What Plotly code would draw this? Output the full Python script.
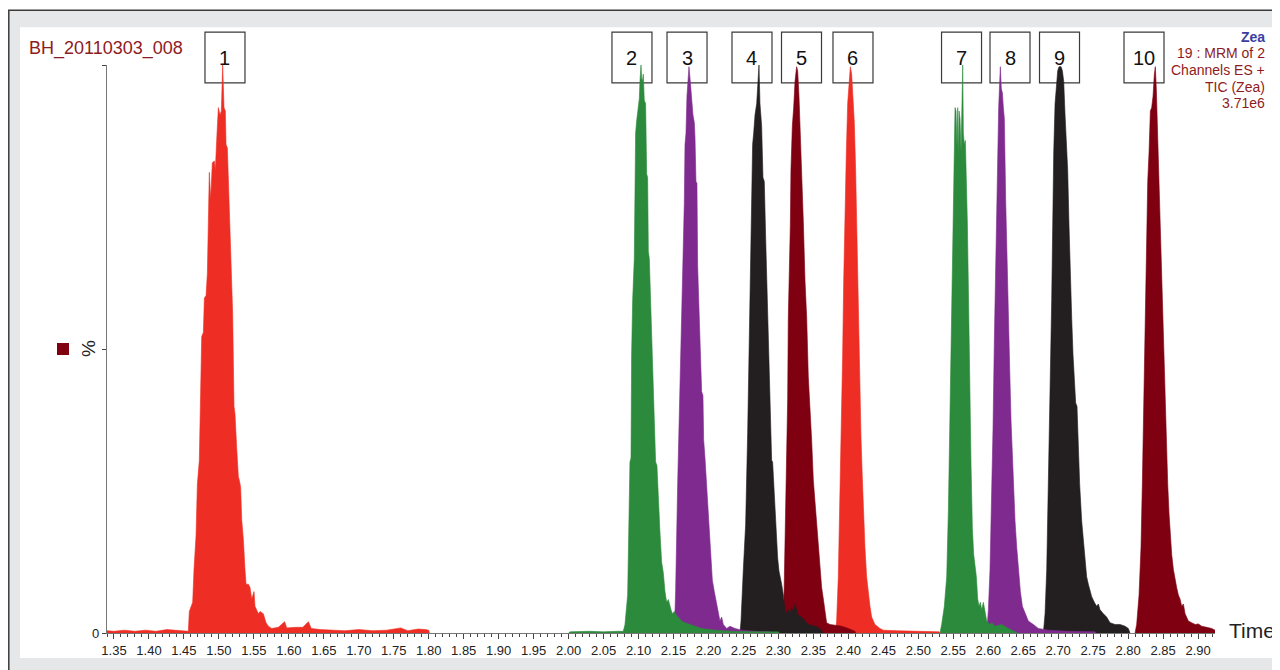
import plotly.graph_objects as go

# ---------------- data (time in min, intensity in %) ----------------
p1_t = [1.340, 1.350, 1.365, 1.380, 1.395, 1.410, 1.4258, 1.440, 1.4563, 1.4577, 1.4625, 1.4644, 1.4673,
        1.4692, 1.4720, 1.4754, 1.4778, 1.4792, 1.4816, 1.4835, 1.4863, 1.4882, 1.4906, 1.4935, 1.4949,
        1.4968, 1.4992, 1.5016, 1.5035, 1.5054, 1.5073, 1.5092, 1.5102, 1.5121, 1.5135, 1.5159, 1.5183,
        1.5197, 1.5216, 1.5230, 1.5254, 1.5278, 1.5292, 1.5311, 1.5326, 1.5350, 1.5373, 1.5388, 1.5421,
        1.5445, 1.5469, 1.5502, 1.5516, 1.5540, 1.5564, 1.5588, 1.5635, 1.5674, 1.5707, 1.5755, 1.585,
        1.594, 1.597, 1.610, 1.620, 1.628, 1.632, 1.645, 1.660, 1.680, 1.700, 1.720, 1.740, 1.760, 1.770,
        1.785, 1.795, 1.800, 1.801]
p1_v = [0.4, 0.3, 0.5, 0.3, 0.5, 0.3, 0.6, 0.4, 0.3, 3.8, 5.4, 11.2, 17.1,
        26.2, 30.4, 52.2, 52.9, 59.0, 59.4, 63.3, 81.1, 76.3, 82.8, 83.1, 81.5,
        86.7, 92.5, 91.2, 91.9, 100.0, 92.5, 91.9, 86.0, 85.4, 79.5, 68.5, 62.0,
        56.1, 39.9, 38.6, 32.7, 27.5, 26.9, 25.6, 20.0, 16.4, 11.2, 8.6, 8.6,
        8.0, 6.0, 7.3, 4.7, 4.1, 3.4, 3.8, 3.4, 1.8, 1.2, 0.8, 1.0,
        2.0, 0.9, 1.0, 1.0, 2.0, 0.8, 0.6, 0.5, 0.4, 0.6, 0.4, 0.5, 0.9, 0.4,
        0.7, 0.6, 0.5, 0.0]

p2_t = [2.000, 2.002, 2.030, 2.050, 2.070, 2.0782, 2.0806, 2.0844, 2.0877, 2.0892, 2.0901, 2.0916,
        2.0939, 2.0958, 2.0973, 2.0997, 2.1011, 2.1020, 2.1035, 2.1044, 2.1054, 2.1068, 2.1082, 2.1101,
        2.1116, 2.1130, 2.1140, 2.1154, 2.1178, 2.1197, 2.1211, 2.1225, 2.1244, 2.1263, 2.1283, 2.1306,
        2.1330, 2.1354, 2.1378, 2.1402, 2.1426, 2.1440, 2.1464, 2.1483, 2.1511, 2.1545, 2.1568, 2.1616,
        2.1664, 2.1735, 2.1807, 2.1902, 2.2093, 2.2331, 2.2700, 2.3000, 2.3010]
p2_v = [0.0, 0.2, 0.3, 0.2, 0.3, 0.3, 1.5, 6.7, 30.1, 30.8, 49.0, 58.7,
        65.9, 88.0, 90.2, 92.5, 94.1, 97.1, 100.0, 97.7, 97.1, 98.4, 93.8, 93.2,
        80.8, 80.2, 67.2, 65.9, 55.5, 47.7, 45.7, 36.6, 30.1, 29.5, 23.0, 17.8,
        12.5, 10.6, 7.3, 5.4, 5.9, 5.1, 4.1, 3.4, 3.8, 3.1, 2.8, 2.1,
        1.8, 1.5, 1.2, 0.8, 0.5, 0.3, 0.2, 0.2, 0.0]

p3_t = [2.1511, 2.1530, 2.1559, 2.1578, 2.1597, 2.1607, 2.1626, 2.1640, 2.1654, 2.1664, 2.1678, 2.1692,
        2.1712, 2.1721, 2.1740, 2.1759, 2.1778, 2.1797, 2.1807, 2.1821, 2.1835, 2.1845, 2.1864, 2.1883,
        2.1902, 2.1921, 2.1931, 2.1950, 2.1969, 2.1988, 2.2007, 2.2036, 2.2055, 2.2083, 2.2102, 2.2131,
        2.2164, 2.2188, 2.2212, 2.2260, 2.2307, 2.2379, 2.2474, 2.2665, 2.2880, 2.2890]
p3_v = [0.0, 7.3, 26.2, 36.0, 43.8, 52.2, 62.0, 67.2, 75.6, 86.0, 88.0, 94.5,
        97.7, 99.7, 97.1, 93.8, 91.2, 89.9, 87.3, 79.5, 79.2, 64.6, 56.8, 47.7,
        42.5, 41.8, 34.0, 30.8, 26.9, 23.0, 19.1, 11.9, 9.3, 7.3, 6.0, 4.1,
        2.1, 2.8, 1.5, 0.8, 1.2, 0.8, 0.5, 0.3, 0.2, 0.0]

p4_t = [2.2450, 2.2465, 2.2498, 2.2531, 2.2560, 2.2579, 2.2593, 2.2607, 2.2617, 2.2631, 2.2646, 2.2665,
        2.2689, 2.2703, 2.2722, 2.2736, 2.2760, 2.2779, 2.2798, 2.2817, 2.2836, 2.2855, 2.2870, 2.2889,
        2.2903, 2.2917, 2.2932, 2.2951, 2.2970, 2.2989, 2.3008, 2.3027, 2.3046, 2.3070, 2.3094, 2.3117,
        2.3141, 2.3165, 2.3189, 2.3213, 2.3237, 2.3260, 2.3284, 2.3332, 2.3380, 2.3427, 2.3523, 2.3594,
        2.3642]
p4_v = [0.0, 2.1, 11.2, 19.1, 35.3, 48.3, 55.5, 63.3, 73.7, 86.0, 88.0, 91.2,
        93.2, 97.1, 100.0, 93.2, 89.3, 80.2, 79.5, 69.8, 62.0, 50.9, 45.1, 36.0,
        30.4, 30.1, 26.2, 21.0, 17.8, 13.2, 10.9, 9.3, 8.6, 6.7, 4.1, 3.4,
        4.1, 3.4, 4.4, 3.8, 5.1, 4.1, 3.1, 2.8, 2.1, 1.5, 1.2, 0.8,
        0.0]

p5_t = [2.3070, 2.3084, 2.3103, 2.3122, 2.3132, 2.3141, 2.3156, 2.3170, 2.3179, 2.3199, 2.3218, 2.3237,
        2.3260, 2.3275, 2.3294, 2.3313, 2.3332, 2.3356, 2.3380, 2.3404, 2.3427, 2.3451, 2.3475, 2.3499,
        2.3523, 2.3546, 2.3570, 2.3594, 2.3618, 2.3642, 2.3666, 2.3689, 2.3737, 2.3809, 2.3904, 2.3999,
        2.4095, 2.4105]
p5_v = [0.0, 9.9, 19.7, 29.5, 41.2, 55.5, 62.0, 71.7, 81.5, 89.3, 92.5, 97.1,
        99.7, 99.0, 94.5, 88.0, 84.1, 72.4, 62.0, 55.5, 45.1, 39.9, 34.0, 26.9,
        23.0, 19.7, 14.5, 11.2, 8.0, 6.0, 3.4, 1.8, 1.5, 1.4, 1.2, 0.8,
        0.3, 0.0]

p6_t = [2.3818, 2.3832, 2.3856, 2.3880, 2.3904, 2.3918, 2.3933, 2.3952, 2.3971, 2.3990, 2.4009, 2.4028,
        2.4047, 2.4066, 2.4085, 2.4104, 2.4123, 2.4142, 2.4161, 2.4180, 2.4199, 2.4218, 2.4237, 2.4261,
        2.4285, 2.4309, 2.4333, 2.4380, 2.4452, 2.4500, 2.4700, 2.5000, 2.5300, 2.5310]
p6_v = [0.0, 2.1, 9.9, 23.0, 36.0, 49.0, 62.0, 75.0, 84.7, 93.2, 97.1, 99.7,
        98.4, 94.5, 89.9, 81.5, 69.8, 55.5, 45.1, 34.7, 27.5, 19.1, 15.1, 9.9,
        6.7, 4.7, 2.8, 1.5, 0.8, 0.5, 0.4, 0.3, 0.2, 0.0]

p7_t = [2.5310, 2.5334, 2.5372, 2.5406, 2.5430, 2.5449, 2.5468, 2.5487, 2.5501, 2.5515, 2.5525, 2.5539,
        2.5554, 2.5563, 2.5573, 2.5582, 2.5596, 2.5611, 2.5620, 2.5635, 2.5644, 2.5658, 2.5673, 2.5687,
        2.5701, 2.5716, 2.5735, 2.5754, 2.5773, 2.5792, 2.5811, 2.5830, 2.5849, 2.5868, 2.5887, 2.5906,
        2.5930, 2.5954, 2.5978, 2.6025, 2.6049, 2.6097, 2.6192, 2.6288, 2.6407, 2.6420]
p7_v = [0.0, 1.5, 4.7, 9.9, 21.7, 36.0, 49.0, 64.6, 78.2, 91.2, 92.5, 91.9,
        85.4, 92.5, 84.1, 91.9, 90.6, 84.7, 89.3, 100.0, 88.0, 86.0, 86.7, 80.2,
        72.4, 60.7, 42.5, 29.5, 18.4, 13.8, 11.9, 9.9, 6.0, 4.7, 5.4, 4.1,
        5.4, 3.4, 2.1, 1.5, 1.8, 1.2, 1.5, 0.8, 0.2, 0.0]

p8_t = [2.5978, 2.6002, 2.6025, 2.6049, 2.6068, 2.6087, 2.6106, 2.6121, 2.6135, 2.6149, 2.6164, 2.6173,
        2.6187, 2.6202, 2.6216, 2.6230, 2.6249, 2.6268, 2.6288, 2.6307, 2.6326, 2.6345, 2.6364, 2.6383,
        2.6407, 2.6431, 2.6459, 2.6488, 2.6526, 2.6573, 2.6645, 2.6716, 2.6859, 2.7145, 2.7527, 2.7540]
p8_v = [0.0, 4.1, 11.2, 23.0, 36.0, 51.6, 64.6, 75.0, 84.7, 92.5, 97.1, 99.7,
        95.8, 95.1, 92.5, 90.6, 76.3, 64.6, 54.2, 46.4, 37.3, 30.8, 24.9, 19.7,
        15.1, 11.2, 7.3, 4.7, 3.4, 2.1, 1.5, 0.8, 0.5, 0.3, 0.2, 0.0]

p9_t = [2.6788, 2.6812, 2.6836, 2.6859, 2.6883, 2.6907, 2.6921, 2.6936, 2.6955, 2.6974, 2.6993, 2.7012,
        2.7041, 2.7060, 2.7079, 2.7098, 2.7117, 2.7136, 2.7155, 2.7174, 2.7193, 2.7212, 2.7231, 2.7250,
        2.7269, 2.7288, 2.7307, 2.7336, 2.7360, 2.7384, 2.7407, 2.7431, 2.7455, 2.7479, 2.7517, 2.7550,
        2.7574, 2.7598, 2.7646, 2.7693, 2.7741, 2.7813, 2.7884, 2.7956, 2.8003, 2.8027]
p9_v = [0.0, 3.4, 11.2, 24.3, 42.5, 58.7, 73.0, 84.7, 93.2, 97.1, 99.0, 99.7,
        99.7, 99.0, 97.1, 91.2, 86.0, 81.5, 71.7, 60.7, 55.5, 49.0, 43.8, 40.5,
        39.9, 32.1, 26.2, 19.7, 16.4, 12.5, 9.9, 8.6, 7.3, 6.4, 5.4, 4.7,
        5.1, 4.1, 3.4, 2.8, 1.8, 1.5, 1.5, 1.2, 0.8, 0.0]

p10_t = [2.8099, 2.8122, 2.8156, 2.8184, 2.8203, 2.8222, 2.8241, 2.8261, 2.8280, 2.8299, 2.8318, 2.8337,
         2.8356, 2.8375, 2.8389, 2.8403, 2.8418, 2.8432, 2.8451, 2.8470, 2.8489, 2.8508, 2.8527, 2.8547,
         2.8566, 2.8585, 2.8604, 2.8623, 2.8647, 2.8671, 2.8694, 2.8718, 2.8742, 2.8766, 2.8790, 2.8814,
         2.8861, 2.8909, 2.8957, 2.9004, 2.9052, 2.9123, 2.9195, 2.9242, 2.9266]
p10_v = [0.0, 1.5, 6.7, 15.1, 26.2, 39.2, 55.5, 68.5, 79.5, 84.7, 91.9, 92.5,
         94.5, 98.4, 99.7, 95.8, 89.3, 81.5, 73.0, 63.3, 55.5, 47.0, 38.6, 32.7,
         26.2, 21.0, 17.1, 13.8, 11.2, 9.3, 8.0, 6.7, 6.0, 4.7, 5.1, 3.4,
         2.1, 1.8, 1.5, 1.6, 1.2, 1.0, 0.8, 0.5, 0.0]

peak_labels = ["1", "2", "3", "4", "5", "6", "7", "8", "9", "10"]
label_times = [1.5087, 2.0906, 2.1693, 2.2622, 2.3330, 2.4066, 2.5618, 2.6311, 2.7019, 2.8227]

x_ticks = [1.35, 1.40, 1.45, 1.50, 1.55, 1.60, 1.65, 1.70, 1.75, 1.80, 1.85, 1.90, 1.95, 2.00,
           2.05, 2.10, 2.15, 2.20, 2.25, 2.30, 2.35, 2.40, 2.45, 2.50, 2.55, 2.60, 2.65, 2.70,
           2.75, 2.80, 2.85, 2.90]

# ---------------- styling ----------------
RED = "#ee2e24"
GREEN = "#2b8a3b"
PURPLE = "#7f2a8e"
BLACK = "#231f20"
DARKRED = "#7f0010"
TXTRED = "#8e1b22"

series = [
    (p1_t, p1_v, RED), (p2_t, p2_v, GREEN), (p3_t, p3_v, PURPLE), (p4_t, p4_v, BLACK),
    (p5_t, p5_v, DARKRED), (p6_t, p6_v, RED), (p7_t, p7_v, GREEN), (p8_t, p8_v, PURPLE),
    (p9_t, p9_v, BLACK), (p10_t, p10_v, DARKRED),
]

fig = go.Figure()
# earlier-eluting peaks are drawn on top
for t, v, c in reversed(series):
    fig.add_trace(go.Scatter(x=t, y=v, mode="lines", fill="tozeroy", fillcolor=c,
                             line=dict(color=c, width=0.6), hoverinfo="skip", showlegend=False))

# page body has an 8px margin: the figure is drawn 8px in from the window corner
OFF = 8
W, H = 1280 - OFF, 670 - OFF
PL, PR, PT, PB = 107, 1215, 65, 635      # plot area edges in window pixels
L, R, T, B = PL - OFF, W - (PR - OFF), PT - OFF, H - (PB - OFF)
PW, PH = PR - PL, PB - PT


def px(x):
    return (x - PL) / PW


def py(y):
    return (PB - y) / PH


shapes = [
    # outer frame
    dict(type="rect", xref="paper", yref="paper", x0=px(8.8), x1=px(1300), y0=py(10), y1=py(700),
         fillcolor="#e6e7e9", line=dict(color="#3a3a3a", width=1.5), layer="below"),
    dict(type="rect", xref="paper", yref="paper", x0=px(20), x1=px(1300), y0=py(27), y1=py(660),
         fillcolor="white", line=dict(width=0), layer="below"),
    # y-axis legend square
    dict(type="rect", xref="paper", yref="paper", x0=px(57), x1=px(69), y0=py(356), y1=py(344),
         fillcolor=DARKRED, line=dict(width=0), layer="above"),
]

annotations = []
half_w = 20 / (PW / (2.9242 - 1.34))
for lab, lt in zip(peak_labels, label_times):
    shapes.append(dict(type="rect", xref="x", yref="paper", x0=lt - half_w, x1=lt + half_w,
                       y0=py(83), y1=py(32), line=dict(color="#3a3a3a", width=1.2),
                       fillcolor="rgba(0,0,0,0)", layer="below"))
    annotations.append(dict(x=lt, y=py(58), xref="x", yref="paper", text=lab, showarrow=False,
                            font=dict(family="Arial", size=20, color="#111"),
                            xanchor="center", yanchor="middle"))

annotations += [
    dict(x=px(27), y=py(48), xref="paper", yref="paper", text="BH_20110303_008", showarrow=False,
         xanchor="left", yanchor="middle", font=dict(family="Arial", size=18, color=TXTRED)),
    dict(x=px(1267), y=py(37), xref="paper", yref="paper", text="<b>Zea</b>", showarrow=False,
         xanchor="right", yanchor="middle", font=dict(family="Arial", size=14, color="#3b3ea0")),
    dict(x=px(1267), y=py(53), xref="paper", yref="paper", text="19 : MRM of 2", showarrow=False,
         xanchor="right", yanchor="middle", font=dict(family="Arial", size=14, color=TXTRED)),
    dict(x=px(1267), y=py(70), xref="paper", yref="paper", text="Channels ES +", showarrow=False,
         xanchor="right", yanchor="middle", font=dict(family="Arial", size=14, color=TXTRED)),
    dict(x=px(1267), y=py(87), xref="paper", yref="paper", text="TIC (Zea)", showarrow=False,
         xanchor="right", yanchor="middle", font=dict(family="Arial", size=14, color=TXTRED)),
    dict(x=px(1267), y=py(103), xref="paper", yref="paper", text="3.71e6", showarrow=False,
         xanchor="right", yanchor="middle", font=dict(family="Arial", size=14, color=TXTRED)),
    dict(x=px(1227), y=py(632), xref="paper", yref="paper", text="Time", showarrow=False,
         xanchor="left", yanchor="middle", font=dict(family="Arial", size=21, color="#222")),
    dict(x=px(88), y=py(350), xref="paper", yref="paper", text="%", showarrow=False, textangle=-90,
         xanchor="center", yanchor="middle", font=dict(family="Arial", size=19, color="#222")),
]

fig.update_layout(
    width=W, height=H,
    margin=dict(l=L, r=R, t=T, b=B, pad=0),
    paper_bgcolor="white", plot_bgcolor="white",
    shapes=shapes, annotations=annotations,
    xaxis=dict(range=[1.34, 2.9242], tickvals=x_ticks, ticktext=[f"{v:.2f}" for v in x_ticks],
               ticks="outside", ticklen=5, tickcolor="#444", tickwidth=1,
               showline=True, linecolor="#777", linewidth=1, showgrid=False, zeroline=False,
               tickfont=dict(family="Arial", size=13, color="#222"),
               minor=dict(dtick=0.01, tick0=1.35, ticks="outside", ticklen=3, tickcolor="#444", showgrid=False)),
    yaxis=dict(range=[0, 100], tickvals=[0, 50, 100], ticktext=["0", "", ""],
               ticks="outside", ticklen=4, tickcolor="#444",
               showline=True, linecolor="#777", linewidth=1.2, showgrid=False, zeroline=False,
               tickfont=dict(family="Arial", size=13, color="#222")),
)

fig.write_html("out.html")
